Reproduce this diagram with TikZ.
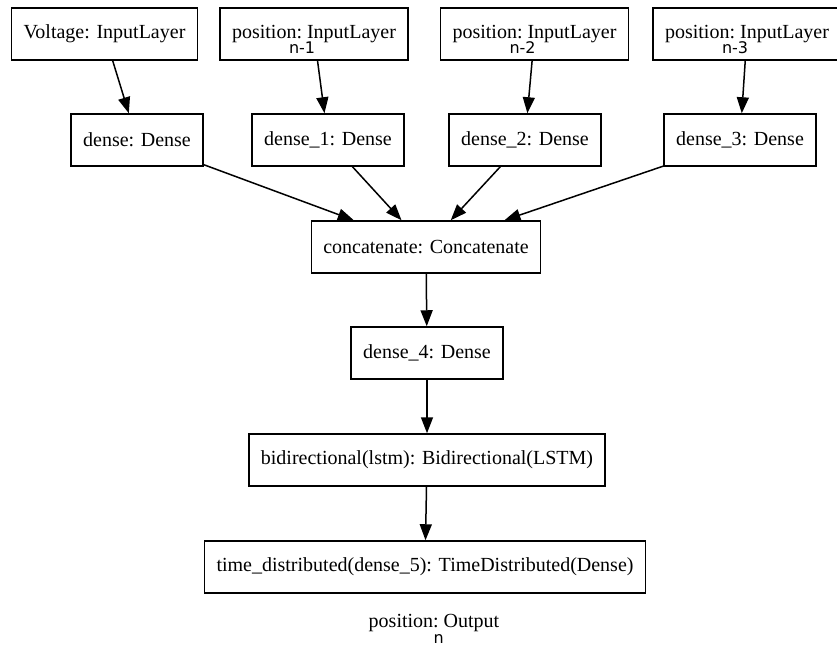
\documentclass[tikz,border=0pt]{standalone}
\usepackage{fontspec}
\setmainfont{Liberation Serif}
\newfontfamily\subfont{DejaVu Sans}
\usetikzlibrary{arrows.meta}
\newcommand{\possub}[1]{\makebox[0pt][c]{\raisebox{-15.5pt}[0pt][0pt]{\fontsize{16}{16}\subfont #1}}}
\tikzset{
    layer/.style={draw,line width=1.5pt,minimum height=52pt,inner xsep=12pt,font=\fontsize{20}{24}\selectfont},
    flow/.style={line width=1.5pt,-{Triangle[length=16pt,width=12pt]}}
}
\begin{document}
\begin{tikzpicture}[x=1pt,y=-1pt]
        \useasboundingbox (0,0) rectangle (837,651);
        % inputs
        \node[layer] (voltage) at (104.5,34) {Voltage: InputLayer};
        \node[layer] (pos1) at (314,34) {position:\possub{n-1} InputLayer};
        \node[layer] (pos2) at (534.5,34) {position:\possub{n-2} InputLayer};
        \node[layer] (pos3) at (747,34) {position:\possub{n-3} InputLayer};
        % dense layers
        \node[layer] (dense0) at (137,140) {dense: Dense};
        \node[layer] (dense1) at (328,140) {dense\_1: Dense};
        \node[layer] (dense2) at (525,140) {dense\_2: Dense};
        \node[layer] (dense3) at (740,140) {dense\_3: Dense};
        \node[layer] (concat) at (426,247) {concatenate: Concatenate};
        \node[layer] (dense4) at (427,353) {dense\_4: Dense};
        \node[layer] (bilstm) at (427,460) {bidirectional(lstm): Bidirectional(LSTM)};
        \node[layer] (timedist) at (425,567) {time\_distributed(dense\_5): TimeDistributed(Dense)};
        \node[font=\fontsize{20}{24}\selectfont] (output) at (434,623) {position:\possub{n} Output};
        % connectors
        \draw[flow] (voltage) -- (dense0);
        \draw[flow] (pos1) -- (dense1);
        \draw[flow] (pos2) -- (dense2);
        \draw[flow] (pos3) -- (dense3);
        \foreach \d in {dense0,dense1,dense2,dense3}
            \draw[flow] (\d) -- (concat);
        \draw[flow] (concat) -- (dense4);
        \draw[flow] (dense4) -- (bilstm);
        \draw[flow] (bilstm) -- (timedist);
    \end{tikzpicture}
\end{document}
